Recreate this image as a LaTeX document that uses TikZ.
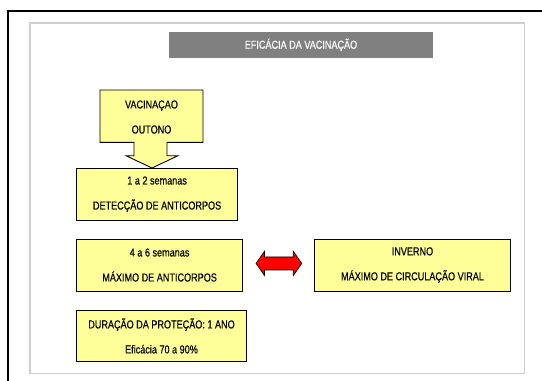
\documentclass[tikz,border=0pt]{standalone}
\usepackage{fontspec}
\setmainfont{Liberation Sans}[FakeStretch=0.79,FakeBold=0.4]
\usetikzlibrary{shapes.arrows}
\definecolor{boxyellow}{HTML}{FFFF99}
\definecolor{titlegray}{HTML}{808080}
\definecolor{framegray}{HTML}{CFCFCF}
\tikzset{
  txt/.style={font=\fontsize{11.5}{25}\selectfont, align=center, inner sep=0pt},
  ybox/.style={draw=black, line width=0.9pt, fill=boxyellow, inner sep=0pt,
    font=\fontsize{11.5}{25}\selectfont, align=center},
}
\begin{document}
\begin{tikzpicture}[x=1pt,y=-1pt]
\useasboundingbox (0,0) rectangle (542,381);
\fill[white] (0,0) rectangle (542,381);
% outer frame
\draw[line width=2pt, black] (8.3,390) -- (8.3,10.8) -- (550,10.8);
% inner frame
\draw[line width=1.5pt, framegray] (29.8,22.8) rectangle (524.3,373.3);
% title
\node[fill=titlegray, minimum width=264pt, minimum height=25.7pt, inner sep=0pt,
  text=white, font=\fontsize{11.5}{12}\selectfont] (title) at (301,44.9) {EFICÁCIA DA VACINAÇÃO};
% vaccination callout
\draw[line width=0.9pt, fill=boxyellow] (100,90) -- (203,90) -- (203,142.3) -- (167,142.3)
  -- (167,155.7) -- (178,155.7) -- (152,168) -- (126,155.7) -- (134,155.7) -- (134,142.3)
  -- (100,142.3) -- cycle;
\node[txt] (vac) at (151.5,117) {VACINAÇAO\\OUTONO};
% boxes
\node[ybox, minimum width=161.4pt, minimum height=52.3pt] (b1) at (157.1,194.2)
  {1 a 2 semanas\\DETECÇÃO DE ANTICORPOS};
\node[ybox, minimum width=166.3pt, minimum height=52pt] (b2) at (159.6,265)
  {4 a 6 semanas\\MÁXIMO DE ANTICORPOS};
\node[ybox, minimum width=196pt, minimum height=52pt] (b3) at (412.5,265)
  {INVERNO\\MÁXIMO DE CIRCULAÇÃO VIRAL};
\node[ybox, minimum width=170.6pt, minimum height=51.7pt] (b4) at (161.5,335.9)
  {DURAÇÃO DA PROTEÇÃO: 1 ANO\\Eficácia 70 a 90\%};
% red double arrow
\node[double arrow, draw=black, line width=0.7pt, fill=red, inner sep=0pt,
  text height=12.3pt, text depth=0pt, text width=1pt,
  minimum height=45.7pt, double arrow head extend=5.5pt,
  double arrow tip angle=110] (arr) at (278.9,263.4) {};
\end{tikzpicture}
\end{document}
